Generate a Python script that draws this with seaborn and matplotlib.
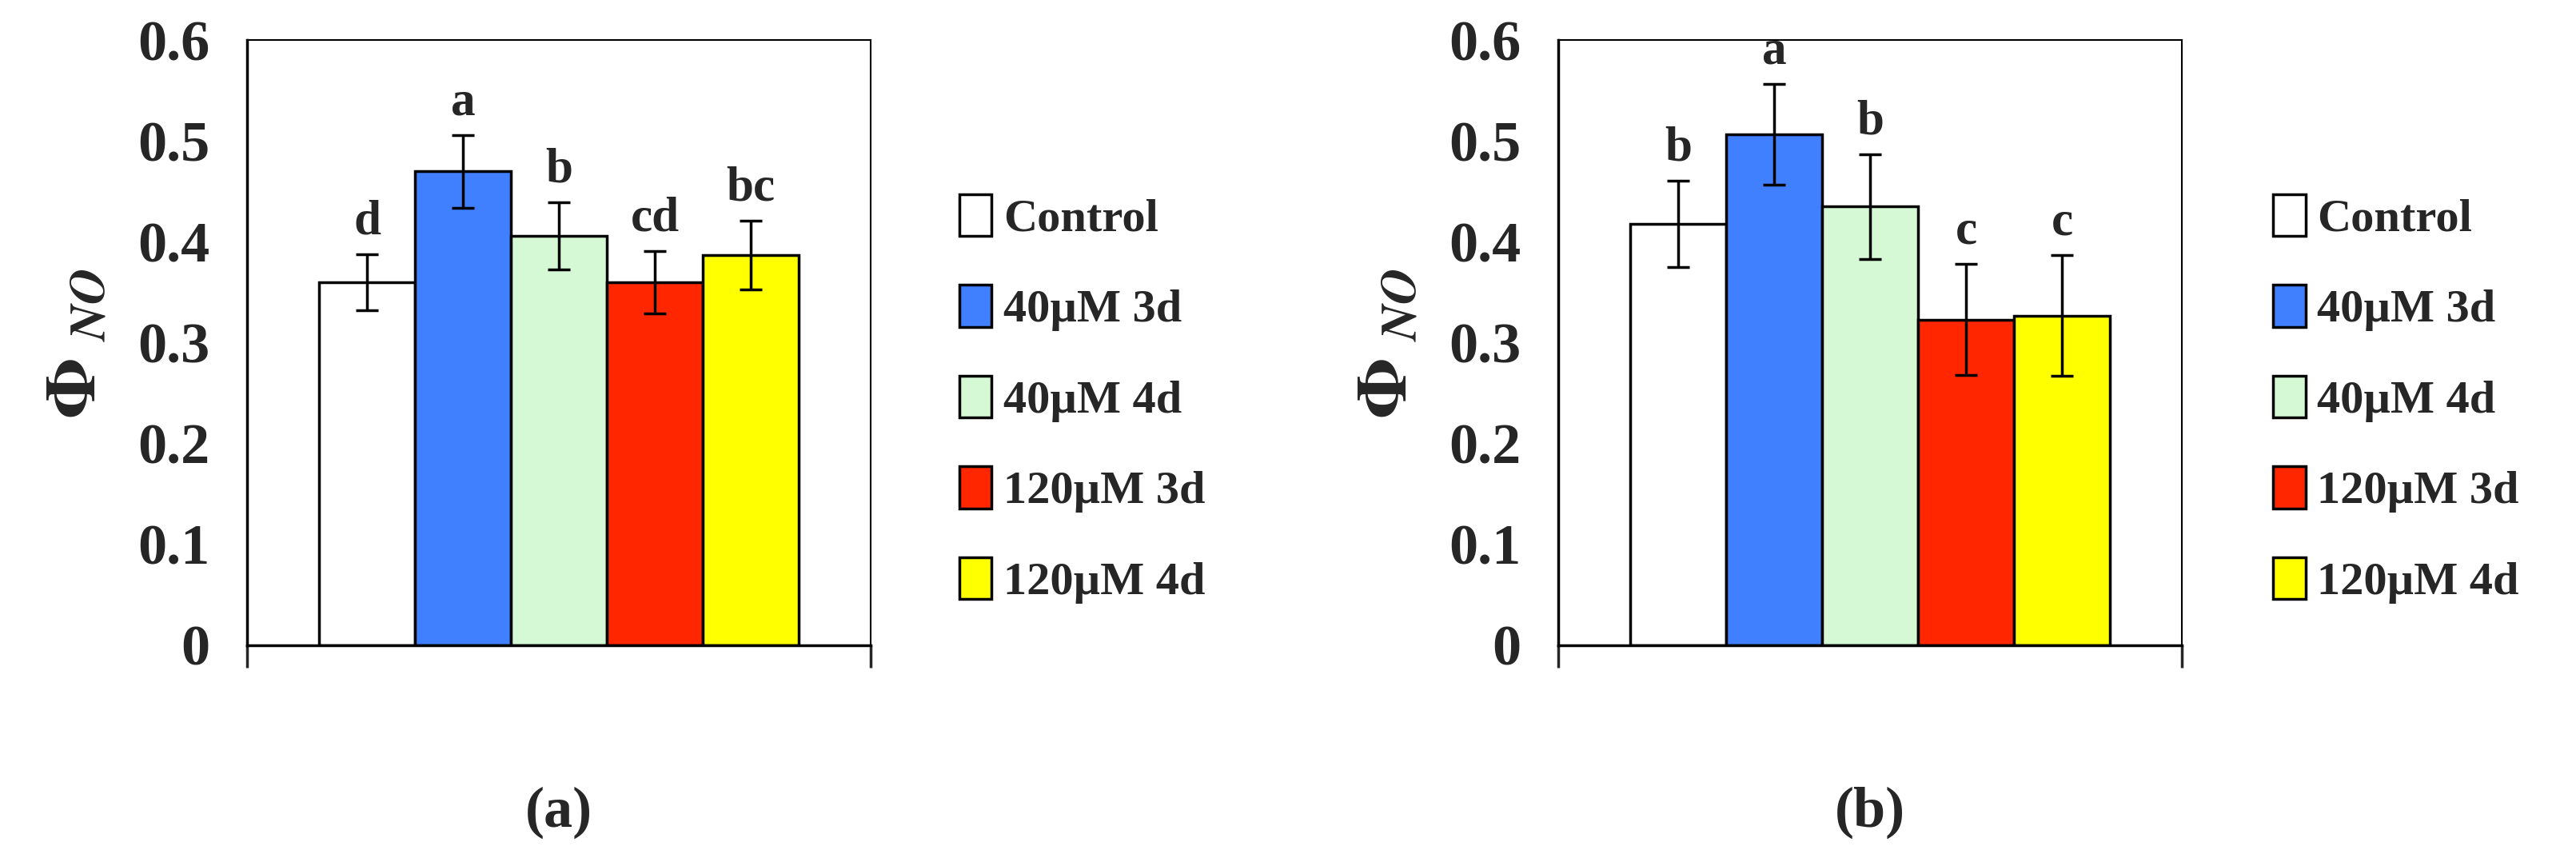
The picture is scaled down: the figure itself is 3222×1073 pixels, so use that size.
import matplotlib
matplotlib.use('AGG')
import matplotlib.pyplot as plt
import seaborn as sns
import pandas as pd
import numpy as np

# treatments and colours
groups = ["Control", "40\u00b5M 3d", "40\u00b5M 4d", "120\u00b5M 3d", "120\u00b5M 4d"]
colors = ["#ffffff", "#4080ff", "#d4f9d4", "#ff2600", "#ffff00"]

# panel (a)
vals_a = [0.360, 0.470, 0.406, 0.360, 0.387]
err_a = [0.028, 0.036, 0.033, 0.031, 0.034]
letters_a = ["d", "a", "b", "cd", "bc"]

# panel (b)
vals_b = [0.418, 0.507, 0.435, 0.323, 0.327]
err_b = [0.043, 0.050, 0.052, 0.055, 0.060]
letters_b = ["b", "a", "b", "c", "c"]

sns.set_style("white")
plt.rcParams['font.family'] = ['Liberation Serif', 'DejaVu Serif']
plt.rcParams['font.weight'] = 'bold'
plt.rcParams['mathtext.fontset'] = 'stix'

fig = plt.figure(figsize=(32.22, 10.73), dpi=100)


def panel(left, vals, errs, letters, leg_x, caption, cap_x):
    ax = fig.add_axes([left, 0.248, 0.242, 0.705])
    df = pd.DataFrame({"group": groups, "val": vals})
    sns.barplot(data=df, x="group", y="val", hue="group", palette=colors, saturation=1,
                width=1.0, edgecolor="black", linewidth=2.5, legend=False, ax=ax)
    ax.errorbar(range(len(vals)), vals, yerr=errs, fmt="none", ecolor="black",
                elinewidth=2.5, capsize=10, capthick=2.5)
    for i, (v, e, l) in enumerate(zip(vals, errs, letters)):
        ax.text(i, v + e + 0.01, l, ha="center", va="bottom", fontsize=44, fontweight="bold")
    ax.set_xlim(-1.25, 5.25)
    ax.set_ylim(0, 0.6)
    ax.set_xticks([-1.25, 5.25])
    ax.set_xticklabels([])
    ax.set_yticks(np.arange(0, 0.61, 0.1))
    ax.set_yticklabels(["0"] + [f"{t:.1f}" for t in np.arange(0.1, 0.61, 0.1)])
    ax.tick_params(axis="y", direction="out", length=20, width=2.5, labelsize=52, pad=14)
    ax.tick_params(axis="x", direction="out", length=20, width=2.5, bottom=True)
    ax.set_xlabel("")
    ax.set_ylabel(r"$\mathbf{\Phi}$ $_{\it NO}$", fontsize=64, labelpad=24)
    for s in ax.spines.values():
        s.set_linewidth(2.5)
        s.set_color("black")
    ax.spines["top"].set_linewidth(1.5)
    ax.spines["right"].set_linewidth(1.5)
    handles = [plt.Rectangle((0, 0), 1, 1, facecolor=c, edgecolor="black", linewidth=2.5)
               for c in colors]
    fig.legend(handles, groups, loc="center left", bbox_to_anchor=(leg_x, 0.535),
               frameon=False, fontsize=42, handlelength=0.7, handleheight=1.0,
               handletextpad=0.25, labelspacing=0.95)
    fig.text(cap_x, 0.053, caption, ha="center", va="center", fontsize=52)


panel(0.096, vals_a, err_a, letters_a, 0.356, "(a)", 0.217)
panel(0.605, vals_b, err_b, letters_b, 0.866, "(b)", 0.726)

fig.savefig("out.png", dpi=100)
